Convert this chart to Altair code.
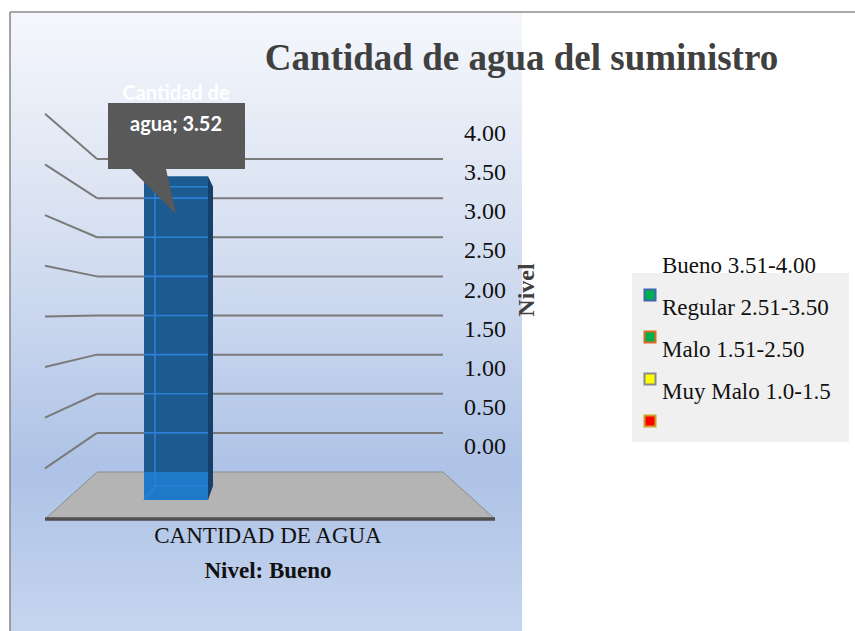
import textwrap

import altair as alt
import pandas as pd

# ---------------------------------------------------------------- values
categories = ["CANTIDAD DE AGUA"]
series_name = "Cantidad de agua"
values = [3.52]
level_note = "Nivel: Bueno"
chart_title = "Cantidad de agua del suministro"
axis_title = "Nivel"
tick_values = [0.0, 0.5, 1.0, 1.5, 2.0, 2.5, 3.0, 3.5, 4.0]
legend_labels = ["Bueno 3.51-4.00", "Regular 2.51-3.50", "Malo 1.51-2.50", "Muy Malo 1.0-1.5"]
swatch_fills = ["#00b050", "#00b050", "#ffff00", "#ff0000"]
swatch_strokes = ["#3f66ad", "#dd6a1f", "#8a8a8a", "#c9a227"]

# ---------------------------------------------------------------- layout (px)
W, H = 855, 631
PANEL = dict(x=10, x2=522, y=12, y2=H)
WALL_X0, WALL_X1, SIDE_X = 97, 443, 45
WALL_ZERO_PX, WALL_UNIT_PX = 472, 78.25      # back wall: level -> pixel
SIDE_ZERO_PX, SIDE_UNIT_PX = 519, 101.3      # front edge of the side wall
FLOOR_FRONT = dict(y=519, x=45, x2=495)
BAR_X0, BAR_X1, BAR_BACK_X, BAR_SIDE_X = 144, 208, 155, 213
BAR_ZERO_PX, BAR_UNIT_PX = 500, 92.0         # front face of the column
BACK_ZERO_PX, BACK_UNIT_PX = 486, 85.0       # back face of the column
LABEL_X = 506
LEG_BOX = dict(x=632, x2=849, y=273, y2=442)
LEG_ROW0_PX, LEG_ROW_PX = 253, 42.0
SERIF = "Liberation Serif"


def level_scale(zero_px, unit_px):
    """Linear scale whose value 0 sits at zero_px and one unit spans unit_px."""
    return alt.Scale(domain=[(zero_px - H) / unit_px, zero_px / unit_px], zero=False, nice=False)


X_CANVAS = alt.Scale(domain=[0, W], zero=False, nice=False)
Y_CANVAS = alt.Scale(domain=[H, 0], zero=False, nice=False)
Y_WALL = level_scale(WALL_ZERO_PX, WALL_UNIT_PX)
Y_BAR = level_scale(BAR_ZERO_PX, BAR_UNIT_PX)
Y_LEGEND = level_scale(LEG_ROW0_PX, -LEG_ROW_PX)


def cx(f):
    return alt.X(f"{f}:Q", scale=X_CANVAS, axis=None)


def sy(f, scale):
    return alt.Y(f"{f}:Q", scale=scale, axis=None)


def on_bar(px):
    """Pixel height -> units of the column's front scale."""
    return (BAR_ZERO_PX - px) / BAR_UNIT_PX


def back(v):
    """Level on the column's back face, expressed in front-face units."""
    return on_bar(BACK_ZERO_PX - v * BACK_UNIT_PX)


def side_end(v):
    """Front end of a side-wall gridline, expressed in back-wall units."""
    return (WALL_ZERO_PX - (SIDE_ZERO_PX - v * SIDE_UNIT_PX)) / WALL_UNIT_PX


value = values[0]
grid_levels = [v for v in tick_values if v > 0]

# ---------------------------------------------------------------- background
panel = alt.Chart(pd.DataFrame([PANEL])).mark_rect(
    fill=alt.Gradient(
        gradient="linear", x1=0, y1=0, x2=0, y2=1,
        stops=[
            alt.GradientStop(color="#f5f7fc", offset=0),
            alt.GradientStop(color="#e0e7f4", offset=0.25),
            alt.GradientStop(color="#c9d6ee", offset=0.5),
            alt.GradientStop(color="#adc2e6", offset=0.74),
            alt.GradientStop(color="#c6d5ef", offset=1),
        ],
    )
).encode(x=cx("x"), x2="x2", y=sy("y", Y_CANVAS), y2="y2")

frame = alt.Chart(pd.DataFrame({
    "x": [PANEL["x"], PANEL["x"]], "x2": [W, PANEL["x"]],
    "y": [PANEL["y"], PANEL["y"]], "y2": [PANEL["y"], H],
})).mark_rule(color="#8c8c8c", strokeWidth=1.6).encode(
    x=cx("x"), x2="x2", y=sy("y", Y_CANVAS), y2="y2")

# ---------------------------------------------------------------- walls and floor
side_lines = alt.Chart(pd.DataFrame({
    "x": SIDE_X, "x2": WALL_X0,
    "y": [side_end(v) for v in grid_levels], "y2": grid_levels,
})).mark_rule(color="#7a7a7a", strokeWidth=2).encode(
    x=cx("x"), x2="x2", y=sy("y", Y_WALL), y2="y2")

back_lines = alt.Chart(pd.DataFrame({"x": WALL_X0, "x2": WALL_X1, "v": grid_levels})).mark_rule(
    color="#7a7a7a", strokeWidth=2).encode(x=cx("x"), x2="x2", y=sy("v", Y_WALL))

floor = alt.Chart(pd.DataFrame({
    "y": [WALL_ZERO_PX, FLOOR_FRONT["y"]],
    "x": [WALL_X0, FLOOR_FRONT["x"]],
    "x2": [WALL_X1, FLOOR_FRONT["x2"]],
})).mark_area(orient="horizontal", color="#b4b4b4", stroke="#8c8c8c", strokeWidth=1).encode(
    y=sy("y", Y_CANVAS), x=cx("x"), x2="x2")

floor_edge = alt.Chart(pd.DataFrame([FLOOR_FRONT])).mark_rule(
    color="#4f4f4f", strokeWidth=3.5).encode(x=cx("x"), x2="x2", y=sy("y", Y_CANVAS))

# ---------------------------------------------------------------- column
bar_df = pd.DataFrame({"category": categories, "value": values,
                       "x": BAR_X0, "x2": BAR_X1, "base": 0.0})

bar_front = alt.Chart(bar_df).mark_rect(color="#1d5a90").encode(
    x=cx("x"), x2="x2", y=sy("value", Y_BAR), y2="base")

bar_low = alt.Chart(pd.DataFrame({
    "x": [BAR_X0], "x2": [BAR_X1], "y": [0.0], "y2": [on_bar(WALL_ZERO_PX)],
})).mark_rect(color="#1f79c9").encode(x=cx("x"), x2="x2", y=sy("y", Y_BAR), y2="y2")

bar_side = alt.Chart(pd.DataFrame({
    "x": [BAR_X1, BAR_SIDE_X],
    "top": [value, back(value)],
    "bottom": [0.0, back(0.0)],
})).mark_area(color="#16406a").encode(x=cx("x"), y=sy("top", Y_BAR), y2="bottom")

through_lines = alt.Chart(pd.DataFrame({
    "x": BAR_X0, "x2": BAR_X1, "v": [v for v in grid_levels if v <= value],
})).mark_rule(color="#2c80d6", strokeWidth=1.6).encode(x=cx("x"), x2="x2", y=sy("v", Y_WALL))

bar_edges = alt.Chart(pd.DataFrame({
    "x": [BAR_BACK_X, BAR_BACK_X, BAR_BACK_X, BAR_BACK_X],
    "x2": [BAR_BACK_X, BAR_X1, BAR_X1, BAR_X0],
    "y": [back(0.0), back(value), back(0.0), back(0.0)],
    "y2": [back(value), back(value), back(0.0), 0.0],
})).mark_rule(color="#2c80d6", strokeWidth=1.6).encode(
    x=cx("x"), x2="x2", y=sy("y", Y_BAR), y2="y2")

# ---------------------------------------------------------------- data label callout
callout_box = alt.Chart(pd.DataFrame({"x": [108], "x2": [245], "y": [103], "y2": [169]})).mark_rect(
    color="#595959").encode(x=cx("x"), x2="x2", y=sy("y", Y_CANVAS), y2="y2")

callout_tail = alt.Chart(pd.DataFrame({
    "y": [169, 214], "x": [131, 176], "x2": [166, 176],
})).mark_area(orient="horizontal", color="#595959").encode(
    y=sy("y", Y_CANVAS), x=cx("x"), x2="x2")

label_df = pd.DataFrame({
    "x": [(BAR_X0 + BAR_X1) / 2],
    "value": values,
    "label": ["\n".join(textwrap.wrap(f"{series_name}; {v:.2f}", 12)) for v in values],
})
callout_text = alt.Chart(label_df).mark_text(
    font="Lato", fontWeight="bold", fontSize=20, color="white", align="center",
    baseline="alphabetic", lineBreak="\n", lineHeight=31, dy=-76,
).encode(x=cx("x"), y=sy("value", Y_BAR), text="label:N")

# ---------------------------------------------------------------- value axis labels
tick_labels = alt.Chart(pd.DataFrame({"x": LABEL_X, "v": tick_values})).mark_text(
    font=SERIF, fontSize=24, color="#111111", align="right", baseline="alphabetic", dy=-18,
).encode(x=cx("x"), y=sy("v", Y_WALL), text=alt.Text("v:Q", format=".2f"))


def canvas_text(text, x, y, **kw):
    return alt.Chart(pd.DataFrame({"x": [x], "y": [y], "t": [text]})).mark_text(
        font=SERIF, align="center", **kw).encode(x=cx("x"), y=sy("y", Y_CANVAS), text="t:N")


title = canvas_text(chart_title, 521.5, 70, fontSize=37, fontWeight="bold",
                    color="#404040", baseline="alphabetic")
y_title = canvas_text(axis_title, 527, 290, fontSize=24, fontWeight="bold",
                      color="#404040", baseline="middle", angle=270)
cat_label = canvas_text(categories[0], 268, 543, fontSize=23, color="#111111", baseline="alphabetic")
note_label = canvas_text(level_note, 268, 578, fontSize=23, fontWeight="bold",
                         color="#111111", baseline="alphabetic")

# ---------------------------------------------------------------- legend
legend_box = alt.Chart(pd.DataFrame([LEG_BOX])).mark_rect(color="#f0f0f0").encode(
    x=cx("x"), x2="x2", y=sy("y", Y_CANVAS), y2="y2")

swatches = alt.Chart(pd.DataFrame({
    "x": 650, "row": [1, 2, 3, 4], "fill": swatch_fills, "stroke": swatch_strokes,
})).mark_point(shape="square", filled=True, size=121, strokeWidth=2, opacity=1).encode(
    x=cx("x"), y=sy("row", Y_LEGEND),
    fill=alt.Fill("fill:N", scale=None), stroke=alt.Stroke("stroke:N", scale=None))

legend_text = alt.Chart(pd.DataFrame({
    "x": 662, "row": list(range(len(legend_labels))), "t": legend_labels,
})).mark_text(font=SERIF, fontSize=23, color="#111111", align="left", baseline="alphabetic", dy=20).encode(
    x=cx("x"), y=sy("row", Y_LEGEND), text="t:N")

chart = alt.layer(
    panel, frame, side_lines, back_lines, floor, floor_edge,
    bar_front, bar_low, through_lines, bar_edges, bar_side,
    callout_box, callout_tail, callout_text,
    tick_labels, title, y_title, cat_label, note_label,
    legend_box, swatches, legend_text,
).resolve_scale(y="independent").properties(
    width=W, height=H, autosize=alt.AutoSizeParams(type="none"), padding=0,
    background="white",
).configure_view(stroke=None)

chart.save("out.html", embed_options={"renderer": "svg", "actions": False})
